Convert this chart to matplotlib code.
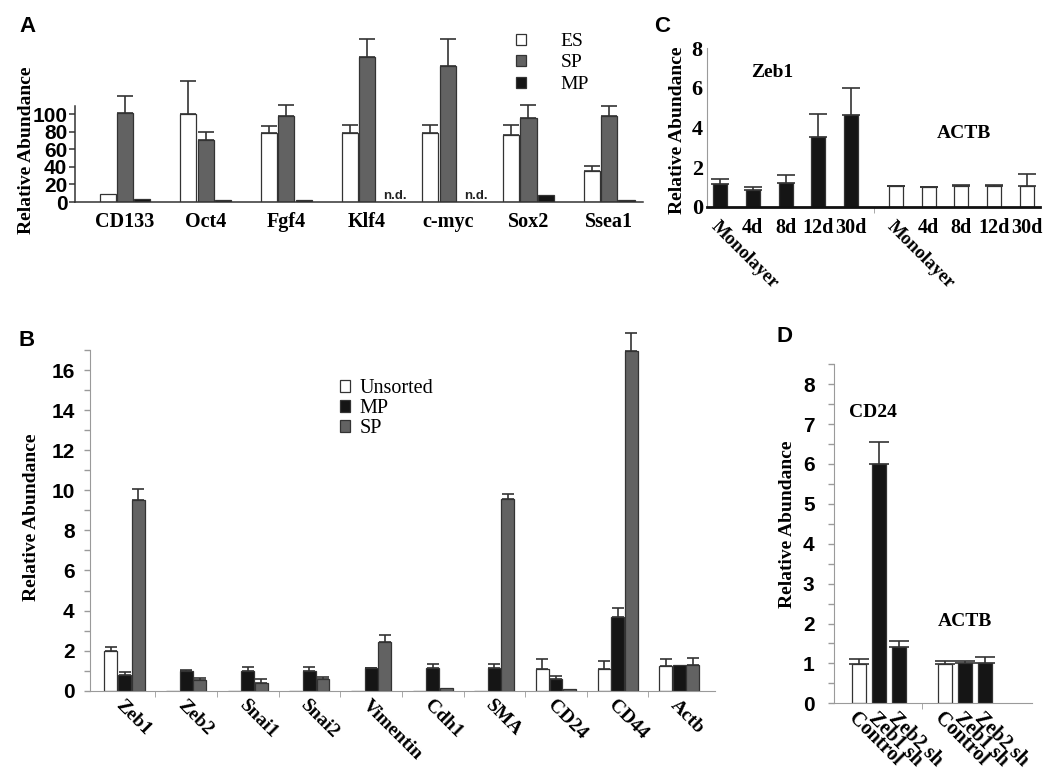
import numpy as np
import matplotlib
matplotlib.use('Agg')
import matplotlib.pyplot as plt
from matplotlib.patches import Patch
from matplotlib.ticker import FixedLocator
import matplotlib.transforms as mtransforms

nan = np.nan

# ---------------- data ----------------
# Panel A
a_genes = ['CD133', 'Oct4', 'Fgf4', 'Klf4', 'c-myc', 'Sox2', 'Ssea1']
a_series = ['ES', 'SP', 'MP']
a_es = [9.5, 100, 78, 78, 78, 76, 35]
a_es_err = [nan, 38, 8.6, 10, 9, 11.5, 6]
a_sp = [101, 70.6, 98, 165, 155, 96, 98]
a_sp_err = [20, 8.4, 12, 20, 30, 14, 11]
a_mp = [3.8, 2.7, 2.7, nan, nan, 8, 2]
a_nd = [False, False, False, True, True, False, False]
a_yticks = [0, 20, 40, 60, 80, 100]

# Panel B
b_genes = ['Zeb1', 'Zeb2', 'Snai1', 'Snai2', 'Vimentin', 'Cdh1', 'SMA', 'CD24', 'CD44', 'Actb']
b_series = ['Unsorted', 'MP', 'SP']
b_uns = [1.98, nan, nan, nan, nan, nan, nan, 1.06, 1.08, 1.21]
b_uns_err = [0.22, nan, nan, nan, nan, nan, nan, 0.52, 0.38, 0.37]
b_mp = [0.78, 0.98, 1.0, 1.0, 1.11, 1.11, 1.11, 0.58, 3.66, 1.3]
b_mp_err = [0.17, 0.03, 0.2, 0.2, 0.04, 0.22, 0.22, 0.17, 0.45, nan]
b_sp = [9.52, 0.53, 0.4, 0.6, 2.45, 0.13, 9.57, 0.1, 16.94, 1.3]
b_sp_err = [0.55, 0.09, 0.17, 0.1, 0.33, nan, 0.25, nan, 0.93, 0.31]
b_yticks = [0, 2, 4, 6, 8, 10, 12, 14, 16]

# Panel C
c_times = ['Monolayer', '4d', '8d', '12d', '30d']
c_zeb1 = [1.13, 0.84, 1.18, 3.54, 4.63]
c_zeb1_err = [0.27, 0.14, 0.42, 1.12, 1.35]
c_actb = [1.04, 1.0, 1.04, 1.04, 1.04]
c_actb_err = [0.02, 0.02, 0.04, 0.08, 0.62]
c_yticks = [0, 2, 4, 6, 8]

# Panel D
d_conds = ['Control', 'Zeb1 sh', 'Zeb2 sh']
d_cd24 = [0.99, 5.99, 1.40]
d_cd24_err = [0.11, 0.57, 0.17]
d_actb = [0.99, 1.0, 1.0]
d_actb_err = [0.08, 0.05, 0.17]
d_yticks = [0, 1, 2, 3, 4, 5, 6, 7, 8]

# ---------------- style ----------------
SERIF = 'Liberation Serif'
SANS = 'Liberation Sans'
WHITE, GRAY, BLACK = '#ffffff', '#626262', '#151515'
EDGE = '#333333'
AXGRAY = '#9a9a9a'

W, H = 1050, 772
fig = plt.figure(figsize=(W / 100, H / 100), dpi=100)


def add_ax(l, r, base, ppu, ymax):
    t = base - ymax * ppu
    ax = fig.add_axes([l / W, 1 - base / H, (r - l) / W, (base - t) / H])
    ax.set_ylim(0, ymax)
    for s in ('top', 'right'):
        ax.spines[s].set_visible(False)
    ax.patch.set_alpha(0)
    return ax


def bars(ax, x, vals, errs, color, width, capsize):
    x = np.asarray(x, float)
    v = np.asarray(vals, float)
    ax.bar(x, np.nan_to_num(v), width, color=color, edgecolor=EDGE,
           linewidth=0.9, zorder=2)
    if errs is None:
        return
    e = np.asarray(errs, float)
    m = ~np.isnan(e) & ~np.isnan(v)
    ax.errorbar(x[m], v[m], yerr=[np.zeros(m.sum()), e[m]], fmt='none',
                ecolor=EDGE, elinewidth=1.2, capsize=capsize, capthick=1.2,
                zorder=1)


def ylabel(ax, x, y):
    ax.set_ylabel('Relative Abundance', fontfamily=SERIF, fontweight='bold',
                  fontsize=14, va='center')
    ax.yaxis.set_label_coords(x, y)


def panel_letter(x, y, s):
    fig.text(x / W, 1 - y / H, s, fontfamily=SANS, fontweight='bold',
             fontsize=16, ha='center', va='center')


# ---------------- Panel A ----------------
axA = add_ax(75, 643, 202, 0.88, 195)
xa = np.arange(len(a_genes))
wa, da = 0.2, 0.215
bars(axA, xa - da, a_es, a_es_err, WHITE, wa, 6)
bars(axA, xa, a_sp, a_sp_err, GRAY, wa, 6)
bars(axA, xa + da, a_mp, None, BLACK, wa, 6)
for i, nd in enumerate(a_nd):
    if nd:
        axA.text(xa[i] + 1.6 * da, 7, 'n.d.', fontfamily=SANS, fontweight='bold',
                 fontsize=9.5, ha='center', va='center', color='#222222')
axA.set_xlim(-0.62, 6.42)
axA.set_xticks(xa)
axA.set_xticklabels(a_genes, fontfamily=SERIF, fontweight='bold', fontsize=14.5)
axA.tick_params(axis='x', length=0, pad=7)
axA.set_yticks(a_yticks)
axA.set_yticklabels([str(t) for t in a_yticks], fontfamily=SANS,
                    fontweight='bold', fontsize=15)
axA.tick_params(axis='y', length=4, width=1.1, pad=1.5, color=EDGE)
axA.spines['left'].set_bounds(0, 109)
axA.spines['left'].set_color(EDGE)
axA.spines['bottom'].set_color(EDGE)
axA.spines['left'].set_linewidth(1.1)
axA.spines['bottom'].set_linewidth(1.1)
ylabel(axA, (27 - 75) / 568, (202 - 150) / 171.6)
hA = [Patch(facecolor=c, edgecolor=EDGE, linewidth=0.9) for c in (WHITE, GRAY, BLACK)]
fig.legend(hA, a_series, loc='upper left', bbox_to_anchor=(516 / W, 1 - 33 / H),
           frameon=False, borderpad=0, borderaxespad=0, handlelength=0.5,
           handleheight=0.5, handletextpad=1.8, labelspacing=0.23,
           prop={'family': SERIF, 'size': 14})

# ---------------- Panel B ----------------
axB = add_ax(90, 715, 690.7, 20.04, 18)
xb = np.arange(len(b_genes))
wb, db = 0.21, 0.22
bars(axB, xb - db, b_uns, b_uns_err, WHITE, wb, 4.5)
bars(axB, xb, b_mp, b_mp_err, BLACK, wb, 4.5)
bars(axB, xb + db, b_sp, b_sp_err, GRAY, wb, 4.5)
axB.set_xlim(-0.56, 9.58)
axB.set_xticks(xb)
axB.set_xticklabels(b_genes, fontfamily=SERIF, fontweight='bold', fontsize=14,
                    rotation=-45, ha='left', va='top', rotation_mode='anchor')
off = mtransforms.ScaledTranslation(-6 / 100, 0, fig.dpi_scale_trans)
for lab in axB.get_xticklabels():
    lab.set_transform(lab.get_transform() + off)
axB.xaxis.set_minor_locator(FixedLocator(xb[:-1] + 0.5))
axB.tick_params(axis='x', which='major', length=0, pad=4.5)
axB.tick_params(axis='x', which='minor', length=4, color=AXGRAY)
axB.set_yticks(b_yticks)
axB.set_yticklabels([str(t) for t in b_yticks], fontfamily=SANS,
                    fontweight='bold', fontsize=15)
axB.yaxis.set_minor_locator(FixedLocator(np.arange(1, 18, 2)))
axB.tick_params(axis='y', which='both', length=4, width=1, color=AXGRAY, pad=7)
axB.spines['left'].set_bounds(0, 17)
axB.spines['left'].set_color(AXGRAY)
axB.spines['bottom'].set_color(AXGRAY)
ylabel(axB, (32 - 90) / 625, (690.7 - 517) / 360.7)
hB = [Patch(facecolor=c, edgecolor=EDGE, linewidth=0.9) for c in (WHITE, BLACK, GRAY)]
fig.legend(hB, b_series, loc='upper left', bbox_to_anchor=(340 / W, 1 - 379 / H),
           frameon=False, borderpad=0, borderaxespad=0, handlelength=0.5,
           handleheight=0.5, handletextpad=0.45, labelspacing=0.05,
           prop={'family': SERIF, 'size': 14.5})

# ---------------- Panel C ----------------
axC = add_ax(707, 1040, 206.7, 19.8, 8)
xc1 = np.arange(len(c_times))
xc2 = xc1 + len(c_times) + 0.37
wc = 0.43
bars(axC, xc1, c_zeb1, c_zeb1_err, BLACK, wc, 6.5)
bars(axC, xc2, c_actb, c_actb_err, WHITE, wc, 6.5)
axC.set_xlim(-0.4, 9.77)
axC.set_xticks(np.concatenate([xc1, xc2]))
axC.set_xticklabels(c_times + c_times, fontfamily=SERIF, fontweight='bold',
                    fontsize=14.5)
for lab in axC.get_xticklabels():
    if lab.get_text() == 'Monolayer':
        lab.set_rotation(-45)
        lab.set_ha('left')
        lab.set_va('top')
        lab.set_rotation_mode('anchor')
        lab.set_fontsize(13.5)
axC.xaxis.set_minor_locator(FixedLocator([(xc1[-1] + xc2[0]) / 2]))
axC.tick_params(axis='x', which='major', length=0, pad=8)
axC.tick_params(axis='x', which='minor', length=4, color=AXGRAY)
axC.set_yticks(c_yticks)
axC.set_yticklabels([str(t) for t in c_yticks], fontfamily=SERIF,
                    fontweight='bold', fontsize=16)
axC.tick_params(axis='y', length=0, pad=3)
axC.spines['left'].set_color(AXGRAY)
axC.spines['bottom'].set_color('#111111')
axC.spines['bottom'].set_linewidth(2)
ylabel(axC, (677 - 707) / 333, (206.7 - 130) / 158.4)
axC.text(np.mean(xc1) - 0.41, 6.8, 'Zeb1', fontfamily=SERIF, fontweight='bold',
         fontsize=14, ha='center', va='center')
axC.text(np.mean(xc2) + 0.08, 3.72, 'ACTB', fontfamily=SERIF, fontweight='bold',
         fontsize=14, ha='center', va='center')

# ---------------- Panel D ----------------
axD = add_ax(834, 1032, 703.3, 39.9, 8.5)
xd1 = np.arange(len(d_conds))
xd2 = xd1 + len(d_conds) + 1.3
wd = 0.72
bars(axD, xd1, d_cd24, d_cd24_err, [WHITE, BLACK, BLACK], wd, 7)
bars(axD, xd2, d_actb, d_actb_err, [WHITE, BLACK, BLACK], wd, 7)
axD.set_xlim(-1.25, 8.65)
axD.set_xticks(np.concatenate([xd1, xd2]))
axD.set_xticklabels(d_conds + d_conds, fontfamily=SERIF, fontweight='bold',
                    fontsize=14.5, rotation=-45, ha='left', va='top',
                    rotation_mode='anchor')
axD.xaxis.set_minor_locator(FixedLocator([(xd1[-1] + xd2[0]) / 2]))
axD.tick_params(axis='x', which='major', length=0, pad=4)
axD.tick_params(axis='x', which='minor', length=4, color=AXGRAY)
axD.set_yticks(d_yticks)
axD.set_yticklabels([str(t) for t in d_yticks], fontfamily=SANS,
                    fontweight='bold', fontsize=15)
axD.yaxis.set_minor_locator(FixedLocator(np.arange(0.5, 8.6, 1)))
axD.tick_params(axis='y', which='both', length=4, width=1, color=AXGRAY, pad=10)
axD.spines['left'].set_color(AXGRAY)
axD.spines['bottom'].set_color(AXGRAY)
ylabel(axD, (788 - 834) / 198, (703.3 - 524) / 339.1)
axD.text(np.mean(xd1) - 0.3, 7.3, 'CD24', fontfamily=SERIF, fontweight='bold',
         fontsize=14, ha='center', va='center')
axD.text(np.mean(xd2) + 0.0, 2.04, 'ACTB', fontfamily=SERIF, fontweight='bold',
         fontsize=14, ha='center', va='center')

# ---------------- panel letters ----------------
panel_letter(27, 27, 'A')
panel_letter(27, 340, 'B')
panel_letter(662, 26, 'C')
panel_letter(785, 336, 'D')

fig.savefig('out.png', dpi=100)
